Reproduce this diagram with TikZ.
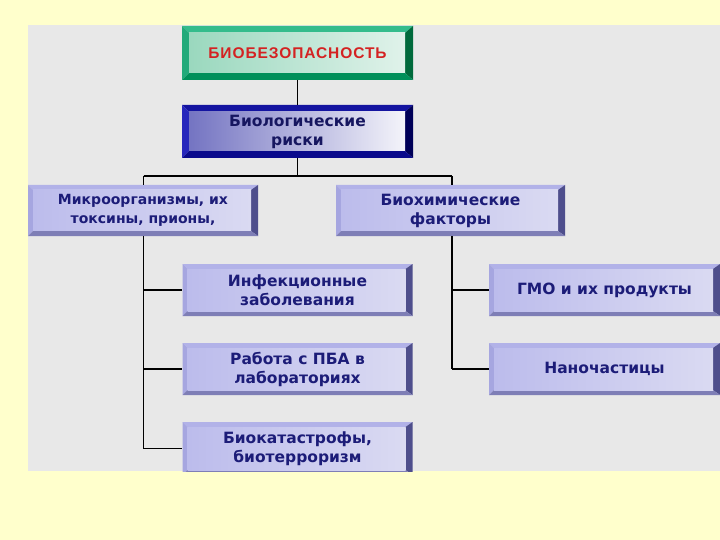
\documentclass[tikz,border=0pt]{standalone}
\usepackage{fontspec}
\setmainfont{DejaVu Sans}
\newfontfamily\titlefont[LetterSpace=6]{Liberation Sans}
\usetikzlibrary{calc}
\definecolor{bgyellow}{HTML}{FFFFCC}
\definecolor{panelgray}{HTML}{E8E8E8}
\definecolor{navytext}{HTML}{1C1C78}
\definecolor{titlered}{HTML}{D42222}
% lavender scheme
\definecolor{lavtop}{HTML}{B2B2E8}
\definecolor{lavleft}{HTML}{A6A6E0}
\definecolor{lavright}{HTML}{4E4E8C}
\definecolor{lavbot}{HTML}{7E7EB6}
\definecolor{lavfaceA}{HTML}{BCBCEC}
\definecolor{lavfaceB}{HTML}{F2F2FB}
\definecolor{lavfaceC}{HTML}{DADAF2}
% green scheme
\definecolor{grtop}{HTML}{34BC8C}
\definecolor{grleft}{HTML}{22AA7A}
\definecolor{grright}{HTML}{006A3C}
\definecolor{grbot}{HTML}{00905A}
\definecolor{grfaceA}{HTML}{9AD8BE}
\definecolor{grfaceB}{HTML}{F2FAF6}
\definecolor{grfaceC}{HTML}{E0F2EA}
% blue scheme
\definecolor{bltop}{HTML}{1414A0}
\definecolor{blleft}{HTML}{2626BC}
\definecolor{blright}{HTML}{000058}
\definecolor{blbot}{HTML}{0A0A8C}
\definecolor{blfaceA}{HTML}{7474C2}
\definecolor{blfaceB}{HTML}{E4E4F4}
\definecolor{blfaceC}{HTML}{F4F4FA}

% #1 top, #2 left, #3 right, #4 bottom, #5 #6 #7 face colours, #8 bevel, #9 right bevel
\newcommand\bevelset[9]{%
  \coordinate (pNW) at (path picture bounding box.north west);
  \coordinate (pNE) at (path picture bounding box.north east);
  \coordinate (pSW) at (path picture bounding box.south west);
  \coordinate (pSE) at (path picture bounding box.south east);
  \fill[#1] (pNW) -- (pNE) -- ($(pNE)+(-#9pt,-#8pt)$) -- ($(pNW)+(#8pt,-#8pt)$) -- cycle;
  \fill[#2] (pNW) -- ($(pNW)+(#8pt,-#8pt)$) -- ($(pSW)+(#8pt,#8pt)$) -- (pSW) -- cycle;
  \fill[#3] (pNE) -- (pSE) -- ($(pSE)+(-#9pt,#8pt)$) -- ($(pNE)+(-#9pt,-#8pt)$) -- cycle;
  \fill[#4] (pSW) -- (pSE) -- ($(pSE)+(-#9pt,#8pt)$) -- ($(pSW)+(#8pt,#8pt)$) -- cycle;
  \shade[left color=#5, middle color=#6, right color=#7]
    ($(pNW)+(#8pt,-#8pt)$) rectangle ($(pSE)+(-#9pt,#8pt)$);
}

\tikzset{
  boxbase/.style={rectangle, inner sep=0pt, align=center,
    font=\fontsize{15.5}{19}\selectfont\bfseries, text=navytext},
  lavbox/.style={boxbase, minimum width=230pt, minimum height=52pt,
    path picture={\bevelset{lavtop}{lavleft}{lavright}{lavbot}{lavfaceA}{lavfaceB}{lavfaceC}{5}{7}}},
  greenbox/.style={boxbase, minimum width=231pt, minimum height=54pt,
    font=\titlefont\fontsize{15.5}{18}\selectfont\bfseries, text=titlered,
    path picture={\bevelset{grtop}{grleft}{grright}{grbot}{grfaceA}{grfaceB}{grfaceC}{7}{8}}},
  bluebox/.style={boxbase, minimum width=231pt, minimum height=53pt, text=navytext!80!black,
    path picture={\bevelset{bltop}{blleft}{blright}{blbot}{blfaceA}{blfaceB}{blfaceC}{7}{8}}},
  smalltext/.style={font=\fontsize{14}{19}\selectfont\bfseries},
  link/.style={draw=black, line width=1.3pt},
}

\begin{document}
\begin{tikzpicture}[x=1pt, y=-1pt]
\fill[bgyellow] (0,0) rectangle (720,540);
\useasboundingbox (0,0) rectangle (720,540);
\fill[panelgray] (28,25) rectangle (720,471);
\begin{scope}
\clip (28,25) rectangle (720,471);

\node[greenbox] (title) at (297.5,53) {БИОБЕЗОПАСНОСТЬ};
\node[bluebox] (risks) at (297.5,131.5) {Биологические\\риски};
\node[lavbox, smalltext, minimum width=230pt, minimum height=51pt] (micro) at (143,210.5) {Микроорганизмы, их\\токсины, прионы,};
\node[lavbox, minimum width=229pt, minimum height=51pt] (bio) at (450.5,210.5) {Биохимические\\факторы};
\node[lavbox] (infect) at (297.5,290) {Инфекционные\\заболевания};
\node[lavbox] (pba) at (297.5,369) {Работа с ПБА в\\лабораториях};
\node[lavbox, minimum height=53pt] (catas) at (297.5,448.5) {Биокатастрофы,\\биотерроризм};
\node[lavbox, minimum width=231pt] (gmo) at (604.5,290) {ГМО и их продукты};
\node[lavbox, minimum width=231pt] (nano) at (604.5,369) {Наночастицы};

\coordinate (jt) at (297.5,176);
\coordinate (jl) at (143.5,176);
\coordinate (jr) at (452,176);

\draw[link] (title.south) -- (risks.north);
\draw[link] (risks.south) -- (jt);
\draw[link] (jl) -- (jr);
\draw[link] (jl) -- (jl |- micro.north);
\draw[link] (jr) -- (jr |- bio.north);
\draw[link] (jl |- micro.south) -- (jl |- catas.west);
\draw[link] (jl |- infect.west) -- (infect.west);
\draw[link] (jl |- pba.west) -- (pba.west);
\draw[link] (jl |- catas.west) -- (catas.west);
\draw[link] (jr |- bio.south) -- (jr |- nano.west);
\draw[link] (jr |- gmo.west) -- (gmo.west);
\draw[link] (jr |- nano.west) -- (nano.west);
\end{scope}
\end{tikzpicture}
\end{document}
